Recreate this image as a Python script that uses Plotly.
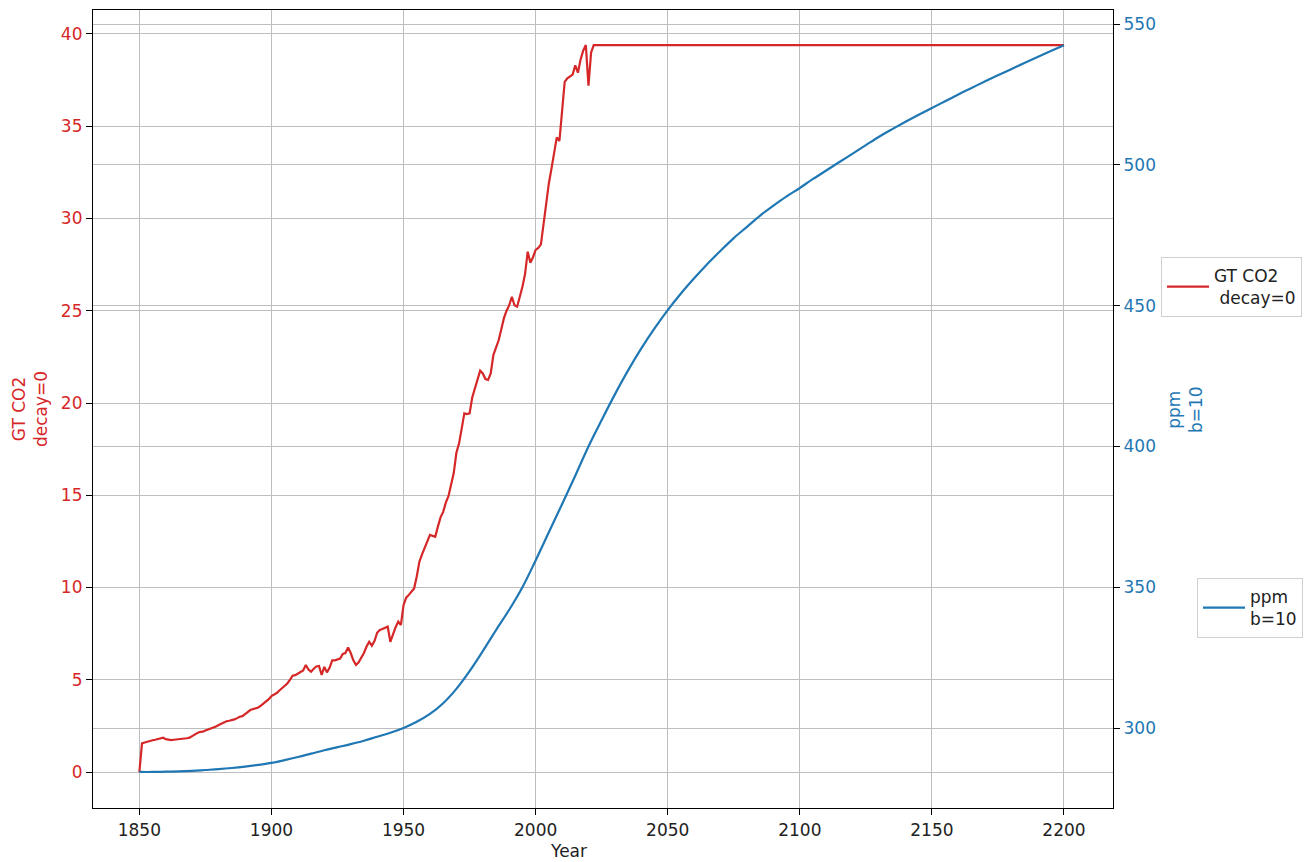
import plotly.graph_objects as go

# ---------------- data ----------------
red_years = list(range(1850, 2023)) + [2200]
red_values = [
    0.0, 1.55, 1.60, 1.65, 1.68, 1.72, 1.75, 1.78, 1.80, 1.86,   # 1850-1859
    1.78, 1.74, 1.73, 1.75, 1.76, 1.78, 1.80, 1.82, 1.83, 1.86,  # 1860-1869
    1.95, 2.05, 2.12, 2.18, 2.19, 2.25, 2.30, 2.33, 2.38, 2.46,  # 1870-1879
    2.55, 2.62, 2.70, 2.75, 2.78, 2.80, 2.85, 2.92, 3.00, 3.03,  # 1880-1889
    3.12, 3.25, 3.36, 3.40, 3.43, 3.50, 3.60, 3.72, 3.82, 3.95,  # 1890-1899
    4.12, 4.20, 4.28, 4.42, 4.55, 4.65, 4.80, 5.00, 5.22, 5.25,  # 1900-1909
    5.35, 5.42, 5.50, 5.80, 5.55, 5.44, 5.60, 5.72, 5.75, 5.26,  # 1910-1919
    5.70, 5.40, 5.65, 6.05, 6.05, 6.10, 6.15, 6.40, 6.45, 6.75,  # 1920-1929
    6.45, 6.05, 5.80, 5.95, 6.20, 6.45, 6.80, 7.06, 6.85, 7.10,  # 1930-1939
    7.55, 7.70, 7.75, 7.80, 7.88, 7.06, 7.50, 7.85, 8.15, 7.97,  # 1940-1949
    9.05, 9.45, 9.60, 9.80, 9.95, 10.6, 11.4, 11.8, 12.2, 12.5,  # 1950-1959
    12.85, 12.8, 12.75, 13.3, 13.8, 14.1, 14.6, 14.95, 15.6, 16.2,  # 1960-1969
    17.3, 17.8, 18.6, 19.44, 19.4, 19.44, 20.3, 20.8, 21.3, 21.75,  # 1970-1979
    21.6, 21.3, 21.25, 21.6, 22.6, 23.0, 23.4, 24.0, 24.6, 25.0,    # 1980-1989
    25.3, 25.76, 25.3, 25.22, 25.7, 26.3, 27.0, 28.2, 27.6, 27.9,   # 1990-1999
    28.3, 28.4, 28.6, 29.8, 30.9, 31.9, 32.7, 33.5, 34.4, 34.2,     # 2000-2009
    36.0, 37.4, 37.6, 37.7, 37.8, 38.3, 37.9, 38.6, 39.1, 39.4,     # 2010-2019
    37.2, 39.0, 39.4,                                                # 2020-2022
    39.4,                                                            # 2200
]

blue_years = list(range(1850, 2201, 5))
blue_values = [
    284.4, 284.4, 284.5, 284.6, 284.8, 285.1, 285.4, 285.8, 286.3, 286.9,  # 1850-1895
    287.6, 288.6, 289.7, 290.9, 292.1, 293.2, 294.3, 295.5, 296.9, 298.3,  # 1900-1945
    300.0, 302.2, 305.0, 308.8, 313.9, 320.2, 327.3, 334.8, 342.0, 350.0,  # 1950-1995
    359.5, 369.5, 379.5, 389.6, 400.0, 409.4, 418.5, 427.0, 434.8, 441.9,  # 2000-2045
    448.4, 454.3, 459.7, 464.8, 469.5, 474.0, 478.0, 482.0, 485.5, 488.8,  # 2050-2095
    491.8, 495.0, 498.0, 501.0, 504.0, 507.0, 510.0, 512.7, 515.3, 517.8,  # 2100-2145
    520.2, 522.6, 525.0, 527.3, 529.6, 531.8, 534.0, 536.2, 538.3, 540.4,  # 2150-2195
    542.5,                                                                  # 2200
]

x_ticks = [1850, 1900, 1950, 2000, 2050, 2100, 2150, 2200]
y_ticks = [0, 5, 10, 15, 20, 25, 30, 35, 40]
y2_ticks = [300, 350, 400, 450, 500, 550]

RED = "#d62728"
BLUE = "#1f77b4"
GRID = "#bdbdbd"
FONT = "DejaVu Sans"
FS = 17

# ---------------- figure ----------------
fig = go.Figure()
fig.add_trace(go.Scatter(
    x=red_years, y=red_values, mode="lines",
    line=dict(color=RED, width=2.2),
    name="GT CO2<br>\u00a0decay=0", legend="legend", yaxis="y",
))
fig.add_trace(go.Scatter(
    x=blue_years, y=blue_values, mode="lines",
    line=dict(color=BLUE, width=2.2, shape="spline", smoothing=1.0),
    name="ppm<br>b=10", legend="legend2", yaxis="y2",
))

# page body has an 8px margin: work in window pixels and shift
OFF = 8
W, H = 1314 - OFF, 862 - OFF
L, T = 93 - OFF, 10 - OFF
pw, ph = 1020, 798
R, B = W - L - pw, H - T - ph


def px(xp):
    return (xp - OFF - L) / pw


def py(yp):
    return (T + ph - (yp - OFF)) / ph


axis_common = dict(
    showgrid=True, gridcolor=GRID, gridwidth=1.2, zeroline=False,
    showline=True, linecolor="black", linewidth=1.2,
    ticks="outside", ticklen=6, tickcolor="black", tickwidth=1,
)

fig.update_layout(
    width=W, height=H,
    margin=dict(l=L, r=R, t=T, b=B),
    paper_bgcolor="white", plot_bgcolor="white",
    font=dict(family=FONT, size=FS, color="black"),
    xaxis=dict(
        **axis_common, mirror=True,
        range=[1832.45, 2218.55], tickvals=x_ticks,
        tickfont=dict(family=FONT, size=FS, color="#222222"),
    ),
    yaxis=dict(
        **axis_common,
        range=[-1.95, 41.3], tickvals=y_ticks,
        tickfont=dict(family=FONT, size=FS, color=RED),
    ),
    yaxis2=dict(
        **axis_common,
        overlaying="y", side="right",
        range=[271.6, 555.0], tickvals=y2_ticks,
        tickfont=dict(family=FONT, size=FS, color=BLUE),
    ),
    showlegend=True,
    legend=dict(
        x=px(1161), y=py(257), xanchor="left", yanchor="top",
        bgcolor="white", bordercolor="#d0d0d0", borderwidth=1,
        font=dict(family=FONT, size=FS, color="#222222"),
        itemwidth=42,
    ),
    legend2=dict(
        x=px(1197), y=py(578), xanchor="left", yanchor="top",
        bgcolor="white", bordercolor="#d0d0d0", borderwidth=1,
        font=dict(family=FONT, size=FS, color="#222222"),
        itemwidth=42,
    ),
    annotations=[
        dict(text="Year", xref="paper", yref="paper", x=px(568), y=py(851),
             xanchor="center", yanchor="middle", showarrow=False,
             font=dict(family=FONT, size=FS, color="#222222")),
        dict(text="GT CO2<br>decay=0", xref="paper", yref="paper",
             x=px(30), y=py(409), xanchor="center", yanchor="middle",
             textangle=-90, showarrow=False,
             font=dict(family=FONT, size=FS, color=RED)),
        dict(text="ppm<br>b=10", xref="paper", yref="paper",
             x=px(1185), y=py(410), xanchor="center", yanchor="middle",
             textangle=-90, showarrow=False,
             font=dict(family=FONT, size=FS, color=BLUE)),
    ],
)

fig.write_html("out.html")
